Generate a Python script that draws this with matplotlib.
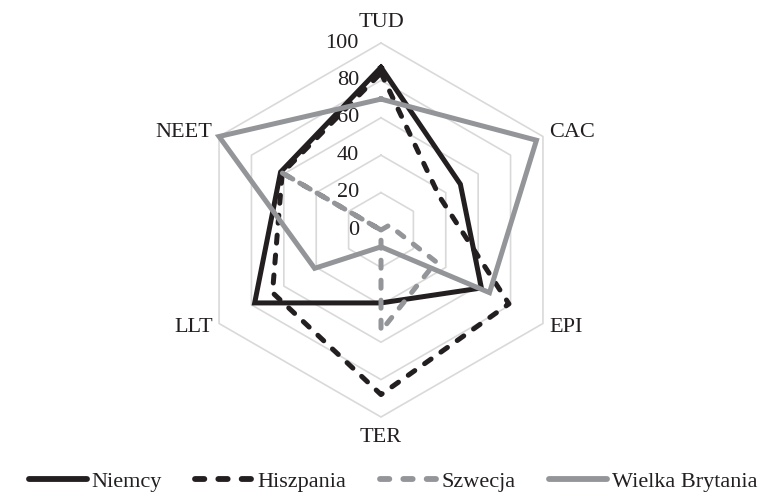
import numpy as np
import matplotlib
matplotlib.use("Agg")
import matplotlib.pyplot as plt
from matplotlib.lines import Line2D

plt.rcParams['font.family'] = ['Liberation Serif', 'DejaVu Serif']

# dane
kategorie = ['TUD', 'CAC', 'EPI', 'TER', 'LLT', 'NEET']
niemcy = [87, 49, 62, 39, 78, 62]
hiszpania = [84, 36, 79, 88, 67, 61]
szwecja = [0, 5, 34, 54, 0, 63]
wielka_brytania = [70, 96, 67, 9, 41, 100]
poziomy = [0, 20, 40, 60, 80, 100]

CZARNY = '#231f20'
SZARY = '#939598'
SIATKA = '#d9d9d9'
FS = 16

n = len(kategorie)
kat = np.arange(n) * 2 * np.pi / n   # od gory, zgodnie z ruchem wskazowek


def xy(wartosci):
    w = np.append(wartosci, wartosci[0])
    k = np.append(kat, kat[0])
    return w * np.sin(k), w * np.cos(k)


fig = plt.figure(figsize=(7.62, 4.95), dpi=100)
ax = fig.add_axes([0, 0, 1, 1])
skala = 1.87  # px na jednostke
ax.set_xlim(-381 / skala, (762 - 381) / skala)
ax.set_ylim(-(495 - 230) / skala, 230 / skala)
ax.axis('off')

# siatka szesciokatna
for p in poziomy[1:]:
    gx, gy = xy([p] * n)
    ax.plot(gx, gy, color=SIATKA, lw=1.2, zorder=1)

# etykiety osi wartosci
for p in poziomy:
    ax.text(-11.8, p, str(p), ha='right', va='center', fontsize=FS, color=CZARNY)

# etykiety kategorii
r_lab = 104
for k, nazwa in zip(kat, kategorie):
    s, c = np.sin(k), np.cos(k)
    if abs(s) < 1e-6:
        ax.text(0, 111 * np.sign(c), nazwa, ha='center', va='center', fontsize=FS, color=CZARNY)
    else:
        ax.text(r_lab * s, r_lab * c, nazwa, ha='left' if s > 0 else 'right',
                va='center', fontsize=FS, color=CZARNY)

lw = 3.6
styl_kreski = dict(dashes=(1.6, 2.4), dash_capstyle='round')
serie = [
    ('Niemcy', niemcy, CZARNY, {}),
    ('Hiszpania', hiszpania, CZARNY, styl_kreski),
    ('Szwecja', szwecja, SZARY, styl_kreski),
    ('Wielka Brytania', wielka_brytania, SZARY, {}),
]
uchwyty = []
for i, (nazwa, dane, kolor, styl) in enumerate(serie):
    sx, sy = xy(dane)
    ax.plot(sx, sy, color=kolor, lw=lw, solid_joinstyle='miter', zorder=3 + i, **styl)
    uchwyty.append(Line2D([], [], color=kolor, lw=4.2, solid_capstyle='round', label=nazwa, **styl))

fig.legend(handles=uchwyty, loc='center', bbox_to_anchor=(0.516, 0.027), ncol=4,
           frameon=False, fontsize=FS, handlelength=2.6, handletextpad=0.2,
           columnspacing=1.5, borderpad=0, labelcolor=CZARNY)

fig.savefig('out.png', dpi=100)
